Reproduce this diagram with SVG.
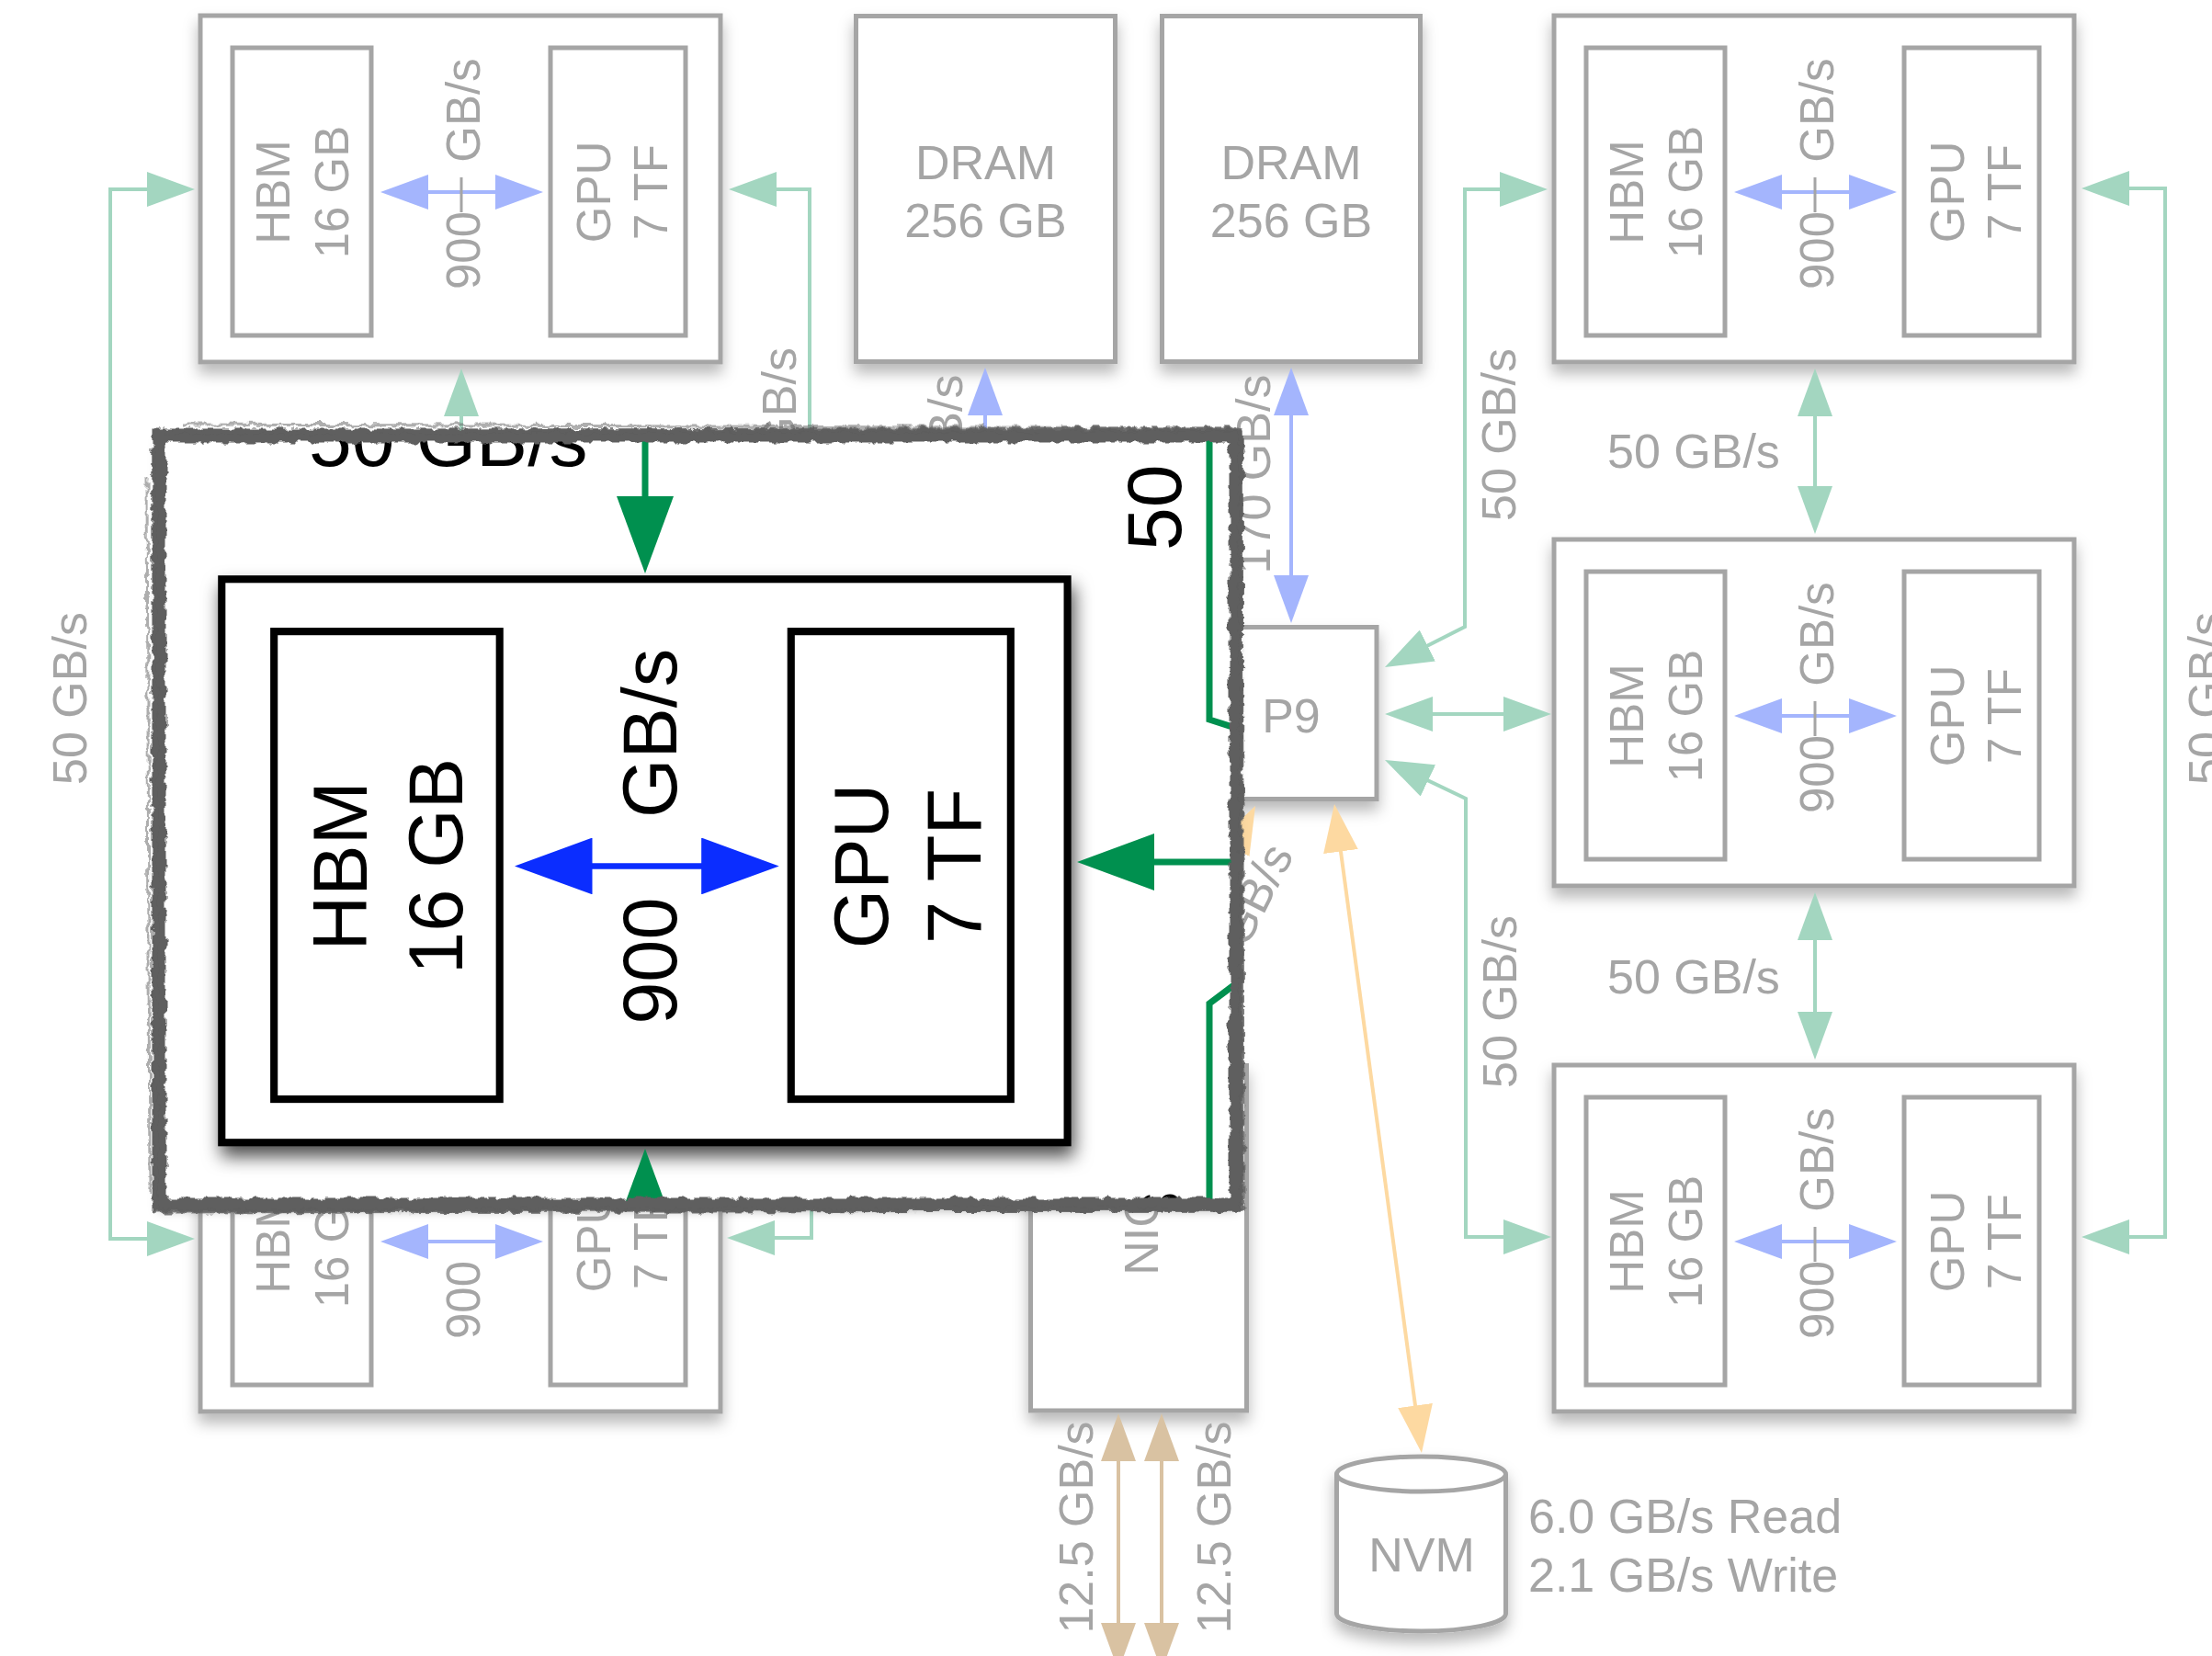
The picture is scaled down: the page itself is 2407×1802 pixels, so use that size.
<svg xmlns="http://www.w3.org/2000/svg" width="2407" height="1802" viewBox="0 0 2407 1802">
<defs>
<style>
text { font-family: "Liberation Sans", Arial, Helvetica, sans-serif; }
.box { fill: #fff; stroke: #a5a5a5; stroke-width: 5; }
.inner { fill: none; stroke: #a5a5a5; stroke-width: 5; }
.t { fill: #a5a5a5; font-size: 52px; }
.tm { fill: #a5a5a5; font-size: 51px; }
.tick { stroke: #a5a5a5; stroke-width: 3; }
.g { fill: none; stroke: #a3d6c0; stroke-width: 4; }
.b { fill: none; stroke: #a4b5fd; stroke-width: 4; }
.o { fill: none; stroke: #fdd9a1; stroke-width: 4; }
.tan { fill: none; stroke: #d9c2a2; stroke-width: 4; }
.kbox { fill: #fff; stroke: #000; stroke-width: 5; }
.kinner { fill: none; stroke: #000; stroke-width: 5; }
.kt { fill: #000; font-size: 51px; }
.kt2 { fill: #000; font-size: 84px; }
.kb { fill: none; stroke: #0b2dff; stroke-width: 4; }
.kg { fill: none; stroke: #00904f; stroke-width: 7; }
.frame { fill: none; stroke: #5e5e5e; }
</style>
<marker id="mg" markerUnits="userSpaceOnUse" viewBox="0 0 52 38" markerWidth="52" markerHeight="38" refX="44" refY="19" orient="auto-start-reverse"><path d="M0,0L52,19L0,38z" fill="#a3d6c0"/></marker>
<marker id="mb" markerUnits="userSpaceOnUse" viewBox="0 0 52 38" markerWidth="52" markerHeight="38" refX="44" refY="19" orient="auto-start-reverse"><path d="M0,0L52,19L0,38z" fill="#a4b5fd"/></marker>
<marker id="mo" markerUnits="userSpaceOnUse" viewBox="0 0 52 38" markerWidth="52" markerHeight="38" refX="44" refY="19" orient="auto-start-reverse"><path d="M0,0L52,19L0,38z" fill="#fdd9a1"/></marker>
<marker id="mt" markerUnits="userSpaceOnUse" viewBox="0 0 52 38" markerWidth="52" markerHeight="38" refX="44" refY="19" orient="auto-start-reverse"><path d="M0,0L52,19L0,38z" fill="#d9c2a2"/></marker>
<marker id="mkb" markerUnits="userSpaceOnUse" viewBox="0 0 52 38" markerWidth="52" markerHeight="38" refX="44" refY="19" orient="auto-start-reverse"><path d="M0,0L52,19L0,38z" fill="#0b2dff"/></marker>
<marker id="mkg" markerUnits="userSpaceOnUse" viewBox="0 0 84 62" markerWidth="84" markerHeight="62" refX="72" refY="31" orient="auto-start-reverse"><path d="M0,0L84,31L0,62z" fill="#00904f"/></marker>
<filter id="sh" x="-10%" y="-10%" width="120%" height="135%"><feDropShadow dx="0" dy="10" stdDeviation="8" flood-color="#000" flood-opacity="0.28"/></filter>
<filter id="shk" x="-10%" y="-10%" width="125%" height="135%"><feDropShadow dx="2" dy="7" stdDeviation="6" flood-color="#000" flood-opacity="0.7"/></filter>
<filter id="sho" x="-5%" y="-5%" width="110%" height="115%"><feDropShadow dx="0" dy="6" stdDeviation="6" flood-color="#000" flood-opacity="0.3"/></filter>
<filter id="rough" x="-5%" y="-5%" width="110%" height="110%">
<feTurbulence type="fractalNoise" baseFrequency="0.09" numOctaves="3" seed="4" result="n"/>
<feDisplacementMap in="SourceGraphic" in2="n" scale="9" xChannelSelector="R" yChannelSelector="G"/>
</filter>
<clipPath id="zc"><rect x="173" y="474" width="1172" height="837"/></clipPath>
</defs>

<rect x="0" y="0" width="2407" height="1802" fill="#fff"/>

<g id="nodes">
<g id="gpu-module-tl">
<rect class="box" x="218" y="17" width="566" height="377" filter="url(#sh)"/>
<rect class="inner" x="253" y="52" width="151" height="313"/>
<rect class="inner" x="599" y="52" width="147" height="313"/>
<text class="tm" transform="translate(315,209) rotate(-90)" text-anchor="middle">HBM</text>
<text class="tm" transform="translate(379,209) rotate(-90)" text-anchor="middle">16 GB</text>
<text class="tm" transform="translate(664,209) rotate(-90)" text-anchor="middle">GPU</text>
<text class="tm" transform="translate(726,209) rotate(-90)" text-anchor="middle">7 TF</text>
</g>
<g id="gpu-module-tr">
<rect class="box" x="1691" y="17" width="566" height="377" filter="url(#sh)"/>
<rect class="inner" x="1726" y="52" width="151" height="313"/>
<rect class="inner" x="2072" y="52" width="147" height="313"/>
<text class="tm" transform="translate(1788,209) rotate(-90)" text-anchor="middle">HBM</text>
<text class="tm" transform="translate(1852,209) rotate(-90)" text-anchor="middle">16 GB</text>
<text class="tm" transform="translate(2137,209) rotate(-90)" text-anchor="middle">GPU</text>
<text class="tm" transform="translate(2199,209) rotate(-90)" text-anchor="middle">7 TF</text>
</g>
<g id="gpu-module-mr">
<rect class="box" x="1691" y="587" width="566" height="377" filter="url(#sh)"/>
<rect class="inner" x="1726" y="622" width="151" height="313"/>
<rect class="inner" x="2072" y="622" width="147" height="313"/>
<text class="tm" transform="translate(1788,779) rotate(-90)" text-anchor="middle">HBM</text>
<text class="tm" transform="translate(1852,779) rotate(-90)" text-anchor="middle">16 GB</text>
<text class="tm" transform="translate(2137,779) rotate(-90)" text-anchor="middle">GPU</text>
<text class="tm" transform="translate(2199,779) rotate(-90)" text-anchor="middle">7 TF</text>
</g>
<g id="gpu-module-br">
<rect class="box" x="1691" y="1159" width="566" height="377" filter="url(#sh)"/>
<rect class="inner" x="1726" y="1194" width="151" height="313"/>
<rect class="inner" x="2072" y="1194" width="147" height="313"/>
<text class="tm" transform="translate(1788,1351) rotate(-90)" text-anchor="middle">HBM</text>
<text class="tm" transform="translate(1852,1351) rotate(-90)" text-anchor="middle">16 GB</text>
<text class="tm" transform="translate(2137,1351) rotate(-90)" text-anchor="middle">GPU</text>
<text class="tm" transform="translate(2199,1351) rotate(-90)" text-anchor="middle">7 TF</text>
</g>
<g id="gpu-module-bl">
<rect class="box" x="218" y="1159" width="566" height="377" filter="url(#sh)"/>
<rect class="inner" x="253" y="1194" width="151" height="313"/>
<rect class="inner" x="599" y="1194" width="147" height="313"/>
<text class="tm" transform="translate(315,1351) rotate(-90)" text-anchor="middle">HBM</text>
<text class="tm" transform="translate(379,1351) rotate(-90)" text-anchor="middle">16 GB</text>
<text class="tm" transform="translate(664,1351) rotate(-90)" text-anchor="middle">GPU</text>
<text class="tm" transform="translate(726,1351) rotate(-90)" text-anchor="middle">7 TF</text>
</g>
<g id="dram-1">
<rect class="box" x="931.5" y="17.5" width="282" height="376" filter="url(#sh)"/>
<text class="t" x="1072.5" y="195" text-anchor="middle">DRAM</text>
<text class="t" x="1072.5" y="258" text-anchor="middle">256 GB</text>
</g>
<g id="dram-2">
<rect class="box" x="1264.5" y="17.5" width="281" height="376" filter="url(#sh)"/>
<text class="t" x="1405" y="195" text-anchor="middle">DRAM</text>
<text class="t" x="1405" y="258" text-anchor="middle">256 GB</text>
</g>
<g id="p9">
<rect class="box" x="1313" y="682.5" width="185" height="187" filter="url(#sh)"/>
<text class="t" x="1405" y="797" text-anchor="middle">P9</text>
</g>
<g id="nic">
<rect class="box" x="1121.5" y="1159.5" width="235" height="375.5" filter="url(#sh)"/>
<text class="t" transform="translate(1260,1343) rotate(-90)" text-anchor="middle">NIC</text>
</g>
<g id="nvm">
<path class="box" d="M1454.5,1604 A92,19 0 0 1 1638.5,1604 L1638.5,1756 A92,19 0 0 1 1454.5,1756 Z" filter="url(#sh)"/>
<path class="inner" d="M1454.5,1604 A92,19 0 0 0 1638.5,1604"/>
<text class="t" x="1547" y="1710" text-anchor="middle">NVM</text>
<text class="t" x="1663" y="1668">6.0 GB/s Read</text>
<text class="t" x="1663" y="1732">2.1 GB/s Write</text>
</g>
</g>

<g id="connectors">
<!-- HBM <-> GPU inside modules -->
<path class="b" d="M422,209 H583" marker-start="url(#mb)" marker-end="url(#mb)"/>
<path class="b" d="M1895,209 H2056" marker-start="url(#mb)" marker-end="url(#mb)"/>
<path class="b" d="M1895,779 H2056" marker-start="url(#mb)" marker-end="url(#mb)"/>
<path class="b" d="M1895,1351 H2056" marker-start="url(#mb)" marker-end="url(#mb)"/>
<path class="b" d="M422,1351 H583" marker-start="url(#mb)" marker-end="url(#mb)"/>
<text class="tm" transform="translate(522,315) rotate(-90)">900 <tspan dx="39">GB/s</tspan></text>
<text class="tm" transform="translate(1995,315) rotate(-90)">900 <tspan dx="39">GB/s</tspan></text>
<text class="tm" transform="translate(1995,885) rotate(-90)">900 <tspan dx="39">GB/s</tspan></text>
<text class="tm" transform="translate(1995,1457) rotate(-90)">900 <tspan dx="39">GB/s</tspan></text>
<text class="tm" transform="translate(522,1457) rotate(-90)">900 <tspan dx="39">GB/s</tspan></text>
<line class="tick" x1="502" y1="193" x2="502" y2="231"/>
<line class="tick" x1="1975" y1="193" x2="1975" y2="231"/>
<line class="tick" x1="1975" y1="763" x2="1975" y2="801"/>
<line class="tick" x1="1975" y1="1335" x2="1975" y2="1373"/>

<!-- green NVLink connectors -->
<path class="g" d="M204,206 H120 V1348 H204" marker-start="url(#mg)" marker-end="url(#mg)"/>
<text class="t" transform="translate(94,760) rotate(-90)" text-anchor="middle">50 GB/s</text>
<path class="g" d="M2273,205 H2356 V1346 H2273" marker-start="url(#mg)" marker-end="url(#mg)"/>
<text class="t" transform="translate(2418,760) rotate(-90)" text-anchor="middle">50 GB/s</text>
<path class="g" d="M502,409 V1145" marker-start="url(#mg)" marker-end="url(#mg)"/>
<path class="g" d="M801,206 H881 V650" marker-start="url(#mg)"/>
<text class="t" transform="translate(866,472) rotate(-90)" text-anchor="middle">50 GB/s</text>
<path class="g" d="M799,1347 H883 V1260" marker-start="url(#mg)"/>
<path class="g" d="M1676,206 H1594 V682 L1514.1,722.4" marker-start="url(#mg)" marker-end="url(#mg)"/>
<text class="t" transform="translate(1649,473) rotate(-90)" text-anchor="middle">50 GB/s</text>
<path class="g" d="M1515,777 H1680" marker-start="url(#mg)" marker-end="url(#mg)"/>
<path class="g" d="M1514.2,830.4 L1595,869 V1346 H1680" marker-start="url(#mg)" marker-end="url(#mg)"/>
<text class="t" transform="translate(1650,1090) rotate(-90)" text-anchor="middle">50 GB/s</text>
<path class="g" d="M1975,409 V573" marker-start="url(#mg)" marker-end="url(#mg)"/>
<text class="t" x="1749" y="509">50 GB/s</text>
<path class="g" d="M1975,979 V1145" marker-start="url(#mg)" marker-end="url(#mg)"/>
<text class="t" x="1749" y="1081">50 GB/s</text>

<!-- DRAM links -->
<path class="b" d="M1072,408 V650" marker-start="url(#mb)"/>
<text class="t" transform="translate(1047,516) rotate(-90)" text-anchor="middle">170 GB/s</text>
<path class="b" d="M1405,408 V670" marker-start="url(#mb)" marker-end="url(#mb)"/>
<text class="t" transform="translate(1382,516) rotate(-90)" text-anchor="middle">170 GB/s</text>

<!-- storage / network links -->
<path class="o" d="M1453.1,882.9 L1545.9,1573.1" marker-start="url(#mo)" marker-end="url(#mo)"/>
<path class="o" d="M1229.6,1145.9 L1362.4,884.1" marker-start="url(#mo)" marker-end="url(#mo)"/>
<text class="t" transform="translate(1356,1033) rotate(-63)">GB/s</text>
<path class="tan" d="M1217,1546 V1810" marker-start="url(#mt)" marker-end="url(#mt)"/>
<path class="tan" d="M1264,1546 V1810" marker-start="url(#mt)" marker-end="url(#mt)"/>
<text class="t" transform="translate(1189,1662) rotate(-90)" text-anchor="middle">12.5 GB/s</text>
<text class="t" transform="translate(1339,1662) rotate(-90)" text-anchor="middle">12.5 GB/s</text>
</g>

<g id="zoom-inset">
<rect x="173" y="474" width="1172" height="837" fill="#fff" filter="url(#sho)"/>
<g clip-path="url(#zc)">
<g id="zoom-module" transform="matrix(1.626 0 0 1.626 -113.2 602.6)">
<rect class="kbox" x="218" y="17" width="566" height="377" filter="url(#shk)"/>
<rect class="kinner" x="253" y="52" width="151" height="313"/>
<rect class="kinner" x="599" y="52" width="147" height="313"/>
<text class="kt" transform="translate(315,209) rotate(-90)" text-anchor="middle">HBM</text>
<text class="kt" transform="translate(379,209) rotate(-90)" text-anchor="middle">16 GB</text>
<text class="kt" transform="translate(664,209) rotate(-90)" text-anchor="middle">GPU</text>
<text class="kt" transform="translate(726,209) rotate(-90)" text-anchor="middle">7 TF</text>
<path class="kb" d="M422,209 H583" marker-start="url(#mkb)" marker-end="url(#mkb)"/>
<text class="kt" transform="translate(522,315) rotate(-90)">900 <tspan dx="39">GB/s</tspan></text>
</g>
<path class="kg" d="M702,460 V612" marker-end="url(#mkg)"/>
<text class="kt2" x="336" y="507">50 GB/s</text>
<path class="kg" d="M1316,460 V783 L1360,797"/>
<path class="kg" d="M1360,938 H1184" marker-end="url(#mkg)"/>
<path class="kg" d="M1316,1330 V1092 L1360,1059"/>
<path class="kg" d="M702,1340 V1262" marker-end="url(#mkg)"/>
<text class="kt2" transform="translate(1285,599) rotate(-90)">50 GB/s</text>
<text class="kt2" transform="translate(1285,1600) rotate(-90)">50 GB/s</text>
</g>
<g filter="url(#rough)">
<rect class="frame" x="173" y="474" width="1172" height="837" stroke-width="15"/>
<path class="frame" d="M168,490 L170,1316 M180,470 L1352,467 M1350,468 L1352,1318 M166,1318 L1352,1316" stroke-width="5" opacity="0.8"/>
<path class="frame" d="M160,520 L163,1300 M200,462 L1340,466" stroke-width="3" opacity="0.5"/>
</g>
</g>
</svg>
